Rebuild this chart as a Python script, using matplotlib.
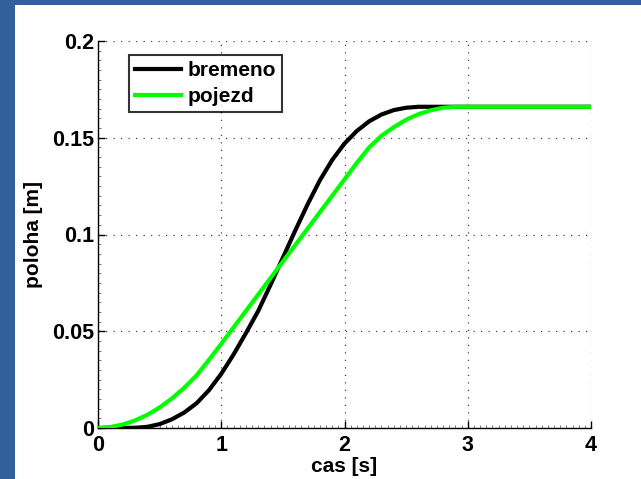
import matplotlib
matplotlib.use("Agg")
import matplotlib.pyplot as plt
from matplotlib.patches import Rectangle
from matplotlib.ticker import MultipleLocator

plt.rcParams['font.family'] = ['Liberation Sans', 'DejaVu Sans']
plt.rcParams['font.weight'] = 'bold'

t = [0.0, 0.1, 0.2, 0.3, 0.4, 0.5, 0.6, 0.7, 0.8, 0.9, 1.0, 1.1, 1.2, 1.3, 1.4,
     1.5, 1.6, 1.7, 1.8, 1.9, 2.0, 2.1, 2.2, 2.3, 2.4, 2.5, 2.6, 2.7, 2.8, 2.9,
     3.0, 3.2, 3.4, 3.6, 3.8, 4.0]
bremeno = [0.0, 0.0, 0.00002, 0.0001, 0.0006, 0.002, 0.0045, 0.008, 0.0128, 0.0195,
           0.028, 0.038, 0.049, 0.0605, 0.074, 0.088, 0.102, 0.1155, 0.128, 0.1385,
           0.147, 0.1535, 0.1585, 0.162, 0.1643, 0.1655, 0.166, 0.166, 0.166, 0.166,
           0.166, 0.166, 0.166, 0.166, 0.166, 0.166]
pojezd = [0.0, 0.0005, 0.0018, 0.0039, 0.0068, 0.0106, 0.0153, 0.0208, 0.0272, 0.0352,
          0.0435, 0.052, 0.0605, 0.069, 0.0775, 0.086, 0.0945, 0.103, 0.1115, 0.12,
          0.1285, 0.137, 0.145, 0.151, 0.1555, 0.1593, 0.1622, 0.1642, 0.1655, 0.166,
          0.166, 0.166, 0.166, 0.166, 0.166, 0.166]
xticks = [0, 1, 2, 3, 4]
xticklabels = ['0', '1', '2', '3', '4']
yticks = [0, 0.05, 0.1, 0.15, 0.2]
yticklabels = ['0', '0.05', '0.1', '0.15', '0.2']

W, H = 641, 479
fig = plt.figure(figsize=(W / 100, H / 100), dpi=100)
fig.patch.set_facecolor('#33609a')
fig.patches.append(Rectangle((15 / W, 0), 1 - 15 / W, 1 - 5 / H,
                             transform=fig.transFigure, facecolor='white',
                             edgecolor='none', zorder=-10))

ax = fig.add_axes([98 / W, 1 - 428 / H, (591 - 98) / W, (428 - 41) / H])
ax.set_zorder(5)
ax.set_facecolor('white')
ax.plot(t, bremeno, color='black', lw=3, label='bremeno', zorder=3,
        solid_joinstyle='round')
ax.plot(t, pojezd, color='#00ff00', lw=3, label='pojezd', zorder=3,
        solid_joinstyle='round')

ax.set_xlim(0, 4)
ax.set_ylim(0, 0.2)
ax.set_xticks(xticks)
ax.set_xticklabels(xticklabels)
ax.set_yticks(yticks)
ax.set_yticklabels(yticklabels)
ax.xaxis.set_minor_locator(MultipleLocator(0.05))
ax.yaxis.set_minor_locator(MultipleLocator(0.005))
ax.tick_params(which='both', direction='in', labelsize=15.5)
ax.tick_params(which='major', length=5, width=1)
ax.tick_params(which='minor', length=2.5, width=0.6, color='#666666')
ax.tick_params(axis='x', pad=5)
ax.tick_params(axis='y', pad=3)
for lab in ax.get_xticklabels() + ax.get_yticklabels():
    lab.set_fontweight('bold')

ax.spines['top'].set_visible(False)
ax.spines['right'].set_visible(False)
ax.spines['left'].set_linewidth(1)
ax.spines['bottom'].set_linewidth(1)
ax.grid(True, which='major', linestyle=(0, (1, 5)), color='#444444', lw=0.9)

ax.set_xlabel('cas [s]', fontsize=15, fontweight='bold', labelpad=1)
ax.set_ylabel('poloha [m]', fontsize=15, fontweight='bold', labelpad=6)

leg = ax.legend(loc='upper left', bbox_to_anchor=(0.063, 0.965), fontsize=15,
                frameon=True, fancybox=False, handlelength=2.2,
                borderpad=0.3, labelspacing=0.35, handletextpad=0.3,
                borderaxespad=0)
leg.get_frame().set_edgecolor('black')
leg.get_frame().set_linewidth(1.5)
for txt in leg.get_texts():
    txt.set_fontweight('bold')

fig.savefig('out.png', dpi=100, facecolor=fig.get_facecolor())
